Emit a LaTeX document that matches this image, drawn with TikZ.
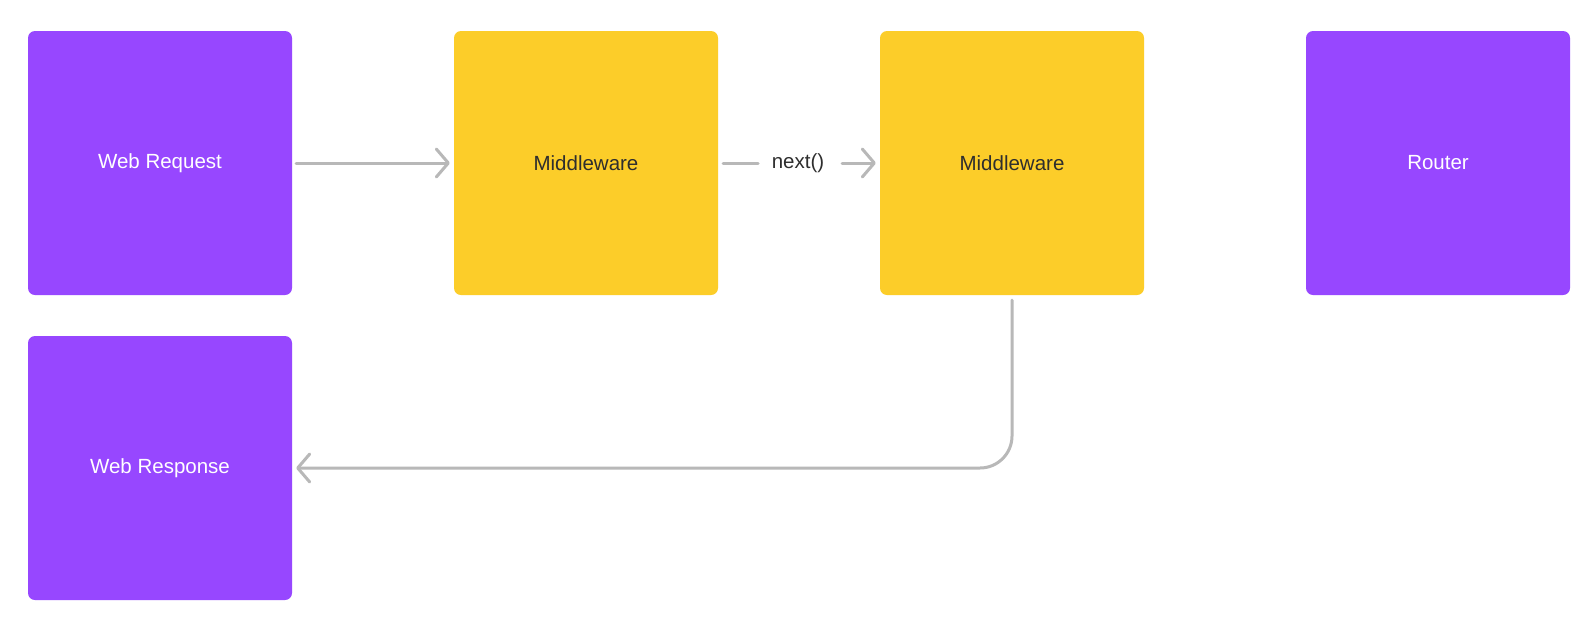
\documentclass[tikz,border=0pt]{standalone}
\usepackage{fontspec}
\setmainfont{Liberation Sans}
\usetikzlibrary{arrows.meta}
\definecolor{boxpurple}{HTML}{9747FF}
\definecolor{boxyellow}{HTML}{FCCD29}
\definecolor{linegray}{HTML}{B8B8B8}
\definecolor{darktext}{HTML}{2E2E2E}
\begin{document}
\begin{tikzpicture}[x=1pt,y=-1pt,
  card/.style={minimum width=264pt,minimum height=264pt,inner sep=0pt,rounded corners=7pt,font=\fontsize{20.5}{23}\selectfont},
  purplecard/.style={card,fill=boxpurple,text=white},
  yellowcard/.style={card,fill=boxyellow,text=darktext},
  conn/.style={draw=linegray,line width=3pt,line cap=round},
  tip/.style={-{Straight Barb[length=12pt,width=28pt,line cap=round,line join=round]}}
]
\useasboundingbox (0,0) rectangle (1592,619);
\fill[white] (0,0) rectangle (1592,619);
\node[purplecard] (req) at (160,163) {Web Request};
\node[yellowcard] (mw1) at (586,163) {Middleware};
\node[yellowcard] (mw2) at (1012,163) {Middleware};
\node[purplecard] (router) at (1438,163) {Router};
\node[purplecard] (resp) at (160,468) {Web Response};
\node[font=\fontsize{20.5}{23}\selectfont,text=darktext,inner sep=0pt] (next) at (798,163) {next()};
\coordinate (s2) at ([xshift=5pt]mw1.east);
\coordinate (e2a) at ([xshift=-40pt]next.center);
\coordinate (s2b) at ([xshift=44pt]next.center);
\draw[conn,tip] ([xshift=4pt]req.east) -- ([xshift=-4pt]mw1.west);
\draw[conn] (s2) -- (e2a);
\draw[conn,tip] (s2b) -- ([xshift=-4pt]mw2.west);
\draw[conn,tip,rounded corners=32pt] ([yshift=-5pt]mw2.south) |- ([xshift=4pt]resp.east);
\end{tikzpicture}
\end{document}
